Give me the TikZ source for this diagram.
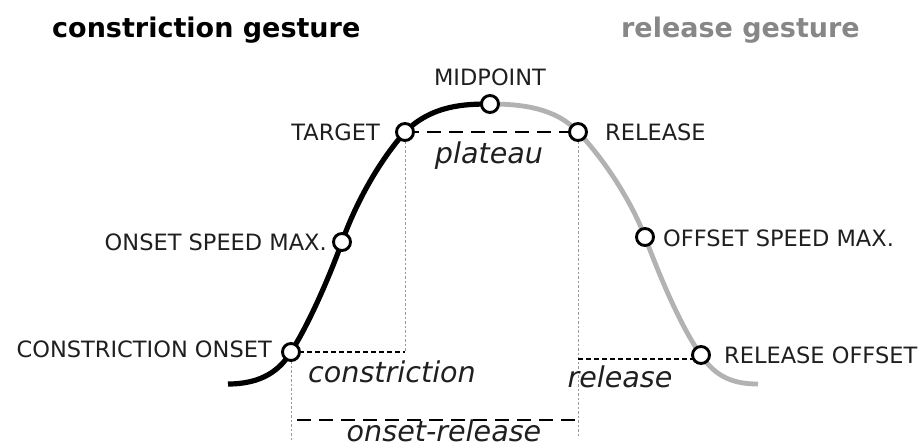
\documentclass[tikz,border=0pt]{standalone}
\usepackage{fontspec}
\setmainfont{DejaVu Sans}
\begin{document}
\begin{tikzpicture}[x=1pt,y=-1pt,
  pt/.style={circle,draw=black,fill=white,line width=2.9pt,minimum size=17pt,inner sep=0pt},
  lbl/.style={inner sep=0pt,font=\fontsize{22.5}{27}\selectfont,text=black!88},
  ital/.style={inner sep=0pt,font=\fontsize{28.6}{34}\selectfont\itshape,text=black!88},
  head/.style={inner sep=0pt,font=\fontsize{27}{32}\selectfont\bfseries},
  guide/.style={gray!80,line width=0.8pt,dash pattern=on 2.5pt off 2pt},
  shortdash/.style={black,line width=1.7pt,dash pattern=on 5pt off 3pt},
  longdash/.style={black,line width=2pt,dash pattern=on 14pt off 8pt},
  rising/.style={black,line width=5.2pt},
  falling/.style={gray!60,line width=4.8pt}]
\useasboundingbox (0,0) rectangle (918,447);

% key points of the movement trajectory
\coordinate (start) at (228,384);
\coordinate (c-onset) at (291,352);
\coordinate (c-speed) at (342,242);
\coordinate (c-target) at (405,132);
\coordinate (c-mid) at (490,104);
\coordinate (c-release) at (578,132);
\coordinate (c-offspeed) at (645,237);
\coordinate (c-offset) at (701,355);
\coordinate (end) at (758,384);

% constriction half of the trajectory (black) and release half (grey)
\draw[falling] (c-mid) .. controls (522,104) and (556,108) .. (c-release)
  .. controls (602,157) and (630,198) .. (c-offspeed)
  .. controls (663,285) and (683,330) .. (c-offset)
  .. controls (716,378) and (735,384) .. (end);
\draw[rising] (start) .. controls (262,384) and (280,370) .. (c-onset)
  .. controls (310,322) and (330,275) .. (c-speed)
  .. controls (356,202) and (380,160) .. (c-target)
  .. controls (432,105) and (465,104) .. (c-mid);

% vertical guides
\coordinate (g1) at (405,352);
\coordinate (g2) at (578,436);
\coordinate (g3) at (291,441);
\coordinate (rel-l) at (578,359);
\coordinate (or-l) at (297,420);
\coordinate (or-r) at (578,420);
\draw[guide] (c-target) -- (g1);
\draw[guide] (c-release) -- (g2);
\draw[guide] (c-onset) -- (g3);

% interval markers
\draw[longdash] (c-target) -- (c-release);
\draw[shortdash] (c-onset) -- (g1);
\draw[shortdash] (rel-l) -- (rel-l -| c-offset);
\draw[longdash] (or-l) -- (or-r);

% landmarks
\node[pt] (onset) at (c-onset) {};
\node[pt] (speed) at (c-speed) {};
\node[pt] (target) at (c-target) {};
\node[pt] (mid) at (c-mid) {};
\node[pt] (release) at (c-release) {};
\node[pt] (offspeed) at (c-offspeed) {};
\node[pt] (offset) at (c-offset) {};

% landmark labels
\node[lbl,anchor=south] (l-mid) at (490,86) {MIDPOINT};
\node[lbl,anchor=east] (l-target) at (380,132) {TARGET};
\node[lbl,anchor=west] (l-release) at (605,132) {RELEASE};
\node[lbl,anchor=east] (l-speed) at (327,242) {ONSET SPEED MAX.};
\node[lbl,anchor=west] (l-offspeed) at (663,238) {OFFSET SPEED MAX.};
\node[lbl,anchor=east] (l-onset) at (272,349) {CONSTRICTION ONSET};
\node[lbl,anchor=west] (l-offset) at (724,355) {RELEASE OFFSET};

% interval labels
\node[ital,anchor=base] (i-plateau) at (489,163) {plateau};
\node[ital,anchor=base] (i-constr) at (392,382) {constriction};
\node[ital,anchor=base] (i-release) at (620,387) {release};
\node[ital,anchor=base] (i-onsrel) at (444,441) {onset-release};

% headings
\node[head,anchor=base west] (h-left) at (52,37) {constriction gesture};
\node[head,anchor=base east,text=black!47] (h-right) at (860,37) {release gesture};
\end{tikzpicture}
\end{document}
